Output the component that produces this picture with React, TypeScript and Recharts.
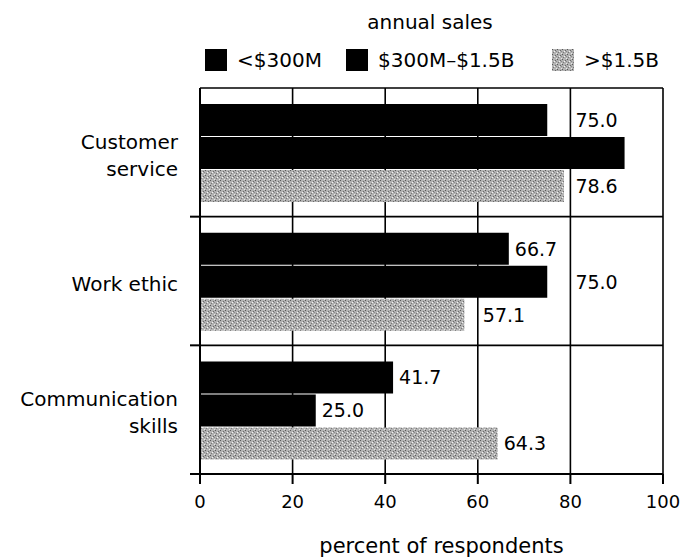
import { BarChart, Bar, XAxis, YAxis, CartesianGrid, LabelList, Label } from "recharts";

const categories = ["Customer\nservice", "Work ethic", "Communication\nskills"];
const seriesNames = ["<$300M", "$300M\u2013$1.5B", ">$1.5B"];
const smallCo = [75.0, 66.7, 41.7];
const midCo = [91.7, 75.0, 25.0];
const largeCo = [78.6, 57.1, 64.3];
// the middle bar of "Customer service" carries no value label in the source
const midLabelled = [false, true, true];
const xTicks = [0, 20, 40, 60, 80, 100];
const xDomain = [0, 100];

const data = categories.map((name, i) => ({
  name,
  small: smallCo[i],
  mid: midCo[i],
  large: largeCo[i],
}));

const FONT = "DejaVu Sans";
const legendLeft = [205, 346, 552];

function CategoryTick(props: any) {
  const { x, y, payload, height, visibleTicksCount } = props;
  const lines = String(payload.value).split("\n");
  const lh = 27;
  const start = y + 3 - ((lines.length - 1) * lh) / 2;
  const axisX = x + 8;
  const band = height / (visibleTicksCount || categories.length);
  const edge = y + band / 2;
  return (
    <g>
      <line x1={axisX - 10} x2={axisX} y1={edge} y2={edge} stroke="#000" strokeWidth={2} />
      <text x={x - 14} y={start} textAnchor="end" fontFamily={FONT} fontSize={20} fill="#000">
        {lines.map((l, i) => (
          <tspan key={i} x={x - 14} y={start + i * lh} dominantBaseline="central">
            {l}
          </tspan>
        ))}
      </text>
    </g>
  );
}

// put the value just past the bar end, hopping over a grid line that sits too close
function makeValueLabel(show?: boolean[]) {
  return (props: any) => {
    const { x, y, width, height, value, index } = props;
    if (show && !show[index]) return null;
    const end = x + width;
    const perUnit = width / value;
    let lx = end + 6;
    for (const g of xTicks) {
      const gx = x + g * perUnit;
      if (gx > end && gx - end < 25) {
        lx = gx + 5;
        break;
      }
    }
    return (
      <text x={lx} y={y + height / 2} dominantBaseline="central" fontFamily={FONT} fontSize={19} fill="#000">
        {Number(value).toFixed(1)}
      </text>
    );
  };
}

function Speckle({ id }: { id: string }) {
  return (
    <pattern id={id} width="5" height="5" patternUnits="userSpaceOnUse">
      <rect width="5" height="5" fill="#b2b2b2" />
      <rect x="0" y="0" width="1" height="1" fill="#5a5a5a" />
      <rect x="3" y="1" width="1" height="1" fill="#6a6a6a" />
      <rect x="1" y="3" width="1" height="1" fill="#787878" />
      <rect x="4" y="4" width="1" height="1" fill="#e8e8e8" />
      <rect x="2" y="2" width="1" height="1" fill="#f4f4f4" />
      <rect x="4" y="2" width="1" height="1" fill="#8a8a8a" />
    </pattern>
  );
}

function Swatch({ textured }: { textured: boolean }) {
  return (
    <svg width={22} height={22} style={{ marginRight: 10 }}>
      <defs>
        <Speckle id="speckleLegend" />
      </defs>
      <rect width={22} height={22} fill={textured ? "url(#speckleLegend)" : "#000"} />
    </svg>
  );
}

export default function App() {
  return (
    <div style={{ position: "absolute", left: 0, top: 0, width: 695, height: 559, background: "#fff", fontFamily: FONT }}>
      <BarChart
        width={695}
        height={559}
        data={data}
        layout="vertical"
        margin={{ top: 88, right: 32, bottom: 45, left: 0 }}
        barCategoryGap="12.5%"
        barGap={1}
      >
        <defs>
          <Speckle id="speckle" />
        </defs>
        <CartesianGrid
          stroke="#000"
          strokeWidth={1.6}
          horizontalCoordinatesGenerator={({ offset }: any) =>
            categories.map((_, i) => offset.top + (i * offset.height) / categories.length)
          }
          verticalCoordinatesGenerator={({ offset }: any) =>
            xTicks.map((t) => offset.left + ((t - xDomain[0]) / (xDomain[1] - xDomain[0])) * offset.width)
          }
        />
        <XAxis
          type="number"
          domain={xDomain}
          ticks={xTicks}
          height={40}
          tickSize={10}
          tickMargin={11}
          axisLine={{ stroke: "#000", strokeWidth: 2 }}
          tickLine={{ stroke: "#000", strokeWidth: 2 }}
          tick={{ fill: "#000", fontSize: 18, fontFamily: FONT }}
        >
          <Label
            value="percent of respondents"
            position="bottom"
            offset={24}
            dx={10}
            fill="#000"
            fontSize={21}
            fontFamily={FONT}
          />
        </XAxis>
        <YAxis
          type="category"
          dataKey="name"
          width={200}
          tickLine={false}
          axisLine={{ stroke: "#000", strokeWidth: 2 }}
          tick={<CategoryTick />}
        />
        <Bar dataKey="small" name={seriesNames[0]} fill="#000" isAnimationActive={false}>
          <LabelList dataKey="small" content={makeValueLabel()} />
        </Bar>
        <Bar dataKey="mid" name={seriesNames[1]} fill="#000" isAnimationActive={false}>
          <LabelList dataKey="mid" content={makeValueLabel(midLabelled)} />
        </Bar>
        <Bar dataKey="large" name={seriesNames[2]} fill="url(#speckle)" isAnimationActive={false}>
          <LabelList dataKey="large" content={makeValueLabel()} />
        </Bar>
      </BarChart>
      <div style={{ position: "absolute", top: 10, left: 0, width: 860, textAlign: "center", fontSize: 20, color: "#000" }}>
        annual sales
      </div>
      {seriesNames.map((s, i) => (
        <div
          key={s}
          style={{ position: "absolute", top: 49, left: legendLeft[i], height: 22, display: "flex", alignItems: "center", fontSize: 20, color: "#000" }}
        >
          <Swatch textured={i === 2} />
          <span>{s}</span>
        </div>
      ))}
    </div>
  );
}
